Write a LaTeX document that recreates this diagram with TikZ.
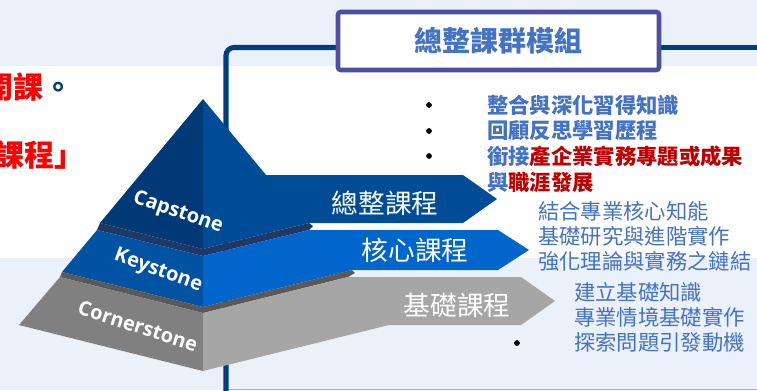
\documentclass[tikz,border=0pt]{standalone}
\usepackage{fontspec}
\setmainfont{Open Sans}
\newfontfamily\cjk{Noto Sans CJK TC}
\usepackage{tikz}
\definecolor{pagebg}{RGB}{235,241,249}
\definecolor{framenavy}{RGB}{0,62,124}
\definecolor{boxpurple}{RGB}{78,80,155}
\definecolor{listblue}{RGB}{68,114,196}
\definecolor{darkred}{RGB}{192,0,0}
\definecolor{capL}{RGB}{0,58,118}
\definecolor{capR}{RGB}{0,76,151}
\definecolor{keyL}{RGB}{0,82,162}
\definecolor{keyR}{RGB}{0,102,204}
\definecolor{cornL}{RGB}{128,128,128}
\definecolor{cornR}{RGB}{166,166,166}
\definecolor{bandblue}{RGB}{32,56,100}
\definecolor{bandgray}{RGB}{89,89,89}

\begin{document}
\begin{tikzpicture}[x=0.75pt,y=-0.75pt,
  frameline/.style={draw=framenavy,line width=3.8pt},
  titlebox/.style={draw=boxpurple,line width=3.4pt,fill=white,rounded corners=2pt,
    minimum width=240.75pt,minimum height=43.5pt,text=listblue,
    font=\cjk\bfseries\fontsize{21}{25}\selectfont},
  redline/.style={anchor=west,inner sep=0pt,text=red,font=\cjk\bfseries\fontsize{22.5}{27}\selectfont},
  listbold/.style={anchor=west,inner sep=0pt,text=listblue,font=\cjk\bfseries\fontsize{16}{19}\selectfont},
  listplain/.style={anchor=west,inner sep=0pt,text=listblue,font=\cjk\fontsize{16}{19}\selectfont},
  dot/.style={circle,fill=black,inner sep=0pt,minimum size=4.3pt},
  arrowlabel/.style={text=white,inner sep=0pt,font=\cjk\fontsize{20}{24}\selectfont},
  layerlabel/.style={text=white,inner sep=0pt,font=\bfseries\fontsize{15}{18}\selectfont}]
  \useasboundingbox (0,0) rectangle (757,390);
  \fill[pagebg] (0,0) rectangle (757,390);
  \fill[white] (0,66) rectangle (757,258);

  \node[redline] (openline) at (-17,87) {開課\textcolor{framenavy}{。}};
  \node[redline] (courseline) at (-6,155) {課程」};

  \draw[frameline,rounded corners=6pt] (226,392) |- (340,47.5);
  \draw[frameline] (655,47.5) -- (757,47.5);
  \draw[draw={rgb,255:red,160;green,180;blue,210},line width=0.9pt] (229,389.5) -- (757,389.5);
  \node[titlebox] (title) at (498.5,41) {總整課群模組};

  \fill[capL] (203,99) -- (100,223) -- (203,249) -- cycle;
  \fill[capR] (203,99) -- (266,175) -- (463,175) -- (497,199) -- (463,223) -- (309,223) -- (203,249) -- cycle;
  \fill[bandblue] (100,223) -- (203,249) -- (309,223) -- (313,226) -- (309,230) -- (203,256) -- (97,230) -- cycle;
  \fill[keyL] (97,230) -- (203,256) -- (203,307) -- (62,272) -- cycle;
  \fill[keyR] (203,256) -- (309,230) -- (498,230) -- (529,250) -- (498,270) -- (352,270) -- (203,307) -- cycle;
  \fill[bandgray] (62,272) -- (203,307) -- (352,270) -- (355,273) -- (348,277) -- (203,313) -- (60,277) -- cycle;
  \fill[cornL] (60,277) -- (203,313) -- (203,371) -- (19,325) -- cycle;
  \fill[cornR] (203,313) -- (348,277) -- (521,277) -- (555,301) -- (521,325) -- (389,325) -- (203,371) -- cycle;

  \node[layerlabel,rotate=-19] (capname) at (178,213) {Capstone};
  \node[layerlabel,rotate=-20] (keyname) at (158,271) {Keystone};
  \node[layerlabel,rotate=-18] (cornname) at (138,326) {Cornerstone};

  \node[arrowlabel] (caplabel) at (385,203) {總整課程};
  \node[arrowlabel] (keylabel) at (415,250) {核心課程};
  \node[arrowlabel] (cornlabel) at (457,305) {基礎課程};

  \foreach \y [count=\i] in {105,131,156}
    \node[dot] (capdot\i) at (429,\y) {};
  \foreach \y/\txt [count=\i] in {105/{整合與深化習得知識},130/{回顧反思學習歷程},
      156/{銜接\textcolor{darkred}{產企業實務專題或成果}},182/{與\textcolor{darkred}{職涯發展}}}
    \node[listbold] (capitem\i) at (487,\y) {\txt};
  \foreach \y/\txt [count=\i] in {211/結合專業核心知能,236/基礎研究與進階實作,261/強化理論與實務之鏈結}
    \node[listplain] (keyitem\i) at (538,\y) {\txt};
  \foreach \y/\txt [count=\i] in {292/建立基礎知識,317/專業情境基礎實作,342/探索問題引發動機}
    \node[listplain] (cornitem\i) at (574,\y) {\txt};
  \node[dot] (corndot) at (517,343) {};
\end{tikzpicture}
\end{document}
